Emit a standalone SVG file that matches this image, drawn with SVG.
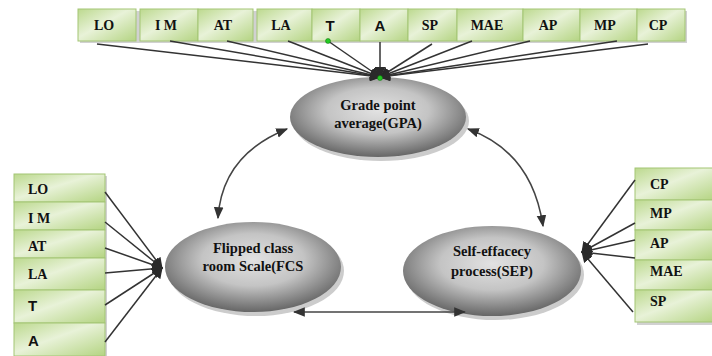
<svg xmlns="http://www.w3.org/2000/svg" width="712" height="356" viewBox="0 0 712 356">
<defs>
<linearGradient id="boxg" x1="0" y1="0" x2="1" y2="1">
<stop offset="0" stop-color="#bcd98e"/>
<stop offset="0.45" stop-color="#e8f2d8"/>
<stop offset="1" stop-color="#b4d482"/>
</linearGradient>
<radialGradient id="ellg" cx="0.5" cy="0.42" r="0.58">
<stop offset="0" stop-color="#e2e2e2"/>
<stop offset="0.5" stop-color="#c4c4c4"/>
<stop offset="1" stop-color="#666"/>
</radialGradient>
<marker id="ah" viewBox="0 0 10 10" refX="9" refY="5" markerWidth="11" markerHeight="11" orient="auto-start-reverse" markerUnits="userSpaceOnUse">
<path d="M0,0 L10,5 L0,10 z" fill="#2a2a2a"/>
</marker>
<marker id="ah2" viewBox="0 0 10 10" refX="9" refY="5" markerWidth="12" markerHeight="12" orient="auto-start-reverse" markerUnits="userSpaceOnUse">
<path d="M0,1 L10,5 L0,9 z" fill="#333"/>
</marker>
</defs>
<style>
.box{fill:url(#boxg);stroke:#a3c575;stroke-width:1}
.bs{fill:#9a9a9a;opacity:0.45}
.lbl{font-family:"Liberation Serif",serif;font-weight:bold;font-size:14px;fill:#111}
.lbls{font-family:"Liberation Sans",sans-serif;font-weight:bold;font-size:15px;fill:#111}
.ell{fill:url(#ellg)}
.eshadow{fill:#9a9a9a;opacity:0.5}
.et{font-family:"Liberation Serif",serif;font-weight:bold;font-size:14.5px;fill:#111;text-anchor:middle}
.c{stroke:#333;stroke-width:1.5;fill:none;marker-end:url(#ah)}
.d{stroke:#444;stroke-width:1.5;fill:none;marker-start:url(#ah2);marker-end:url(#ah2)}
.dot{fill:#22cc22;stroke:#116611;stroke-width:0.5}
</style>

<g id="shadows">
<rect class="bs" x="80" y="11" width="607" height="32"/>
<rect class="bs" x="16" y="176" width="91" height="182"/>
<rect class="bs" x="637" y="170" width="80" height="155"/>
</g>

<g id="top-items">
<g id="t-LO"><rect class="box" x="78" y="9" width="58" height="32"/><text class="lbl" x="104" y="30" text-anchor="middle">LO</text></g>
<g id="t-IM"><rect class="box" x="140" y="9" width="58" height="32"/><text class="lbl" x="166" y="30" text-anchor="middle">I M</text></g>
<g id="t-AT"><rect class="box" x="198" y="9" width="55" height="32"/><text class="lbl" x="223" y="30" text-anchor="middle">AT</text></g>
<g id="t-LA"><rect class="box" x="257" y="9" width="55" height="32"/><text class="lbl" x="281" y="30" text-anchor="middle">LA</text></g>
<g id="t-T"><rect class="box" x="312" y="9" width="48" height="32"/><text class="lbls" x="330" y="31" text-anchor="middle">T</text></g>
<g id="t-A"><rect class="box" x="360" y="9" width="48" height="32"/><text class="lbls" x="380" y="31" text-anchor="middle">A</text></g>
<g id="t-SP"><rect class="box" x="408" y="9" width="49" height="32"/><text class="lbl" x="430" y="30" text-anchor="middle">SP</text></g>
<g id="t-MAE"><rect class="box" x="457" y="9" width="66" height="32"/><text class="lbl" x="487" y="30" text-anchor="middle">MAE</text></g>
<g id="t-AP"><rect class="box" x="523" y="9" width="57" height="32"/><text class="lbl" x="548" y="30" text-anchor="middle">AP</text></g>
<g id="t-MP"><rect class="box" x="580" y="9" width="57" height="32"/><text class="lbl" x="605" y="30" text-anchor="middle">MP</text></g>
<g id="t-CP"><rect class="box" x="637" y="9" width="48" height="32"/><text class="lbl" x="658" y="30" text-anchor="middle">CP</text></g>
</g>

<g id="left-items">
<g id="l-LO"><rect class="box" x="14" y="174" width="91" height="28"/><text class="lbl" x="28" y="194">LO</text></g>
<g id="l-IM"><rect class="box" x="14" y="202" width="91" height="28"/><text class="lbl" x="28" y="223">I M</text></g>
<g id="l-AT"><rect class="box" x="14" y="230" width="91" height="28"/><text class="lbl" x="28" y="251">AT</text></g>
<g id="l-LA"><rect class="box" x="14" y="258" width="91" height="32"/><text class="lbl" x="28" y="279">LA</text></g>
<g id="l-T"><rect class="box" x="14" y="290" width="91" height="33"/><text class="lbls" x="28" y="311">T</text></g>
<g id="l-A"><rect class="box" x="14" y="323" width="91" height="33"/><text class="lbls" x="28" y="346">A</text></g>
</g>

<g id="right-items">
<g id="r-CP"><rect class="box" x="635" y="168" width="80" height="32"/><text class="lbl" x="650" y="189">CP</text></g>
<g id="r-MP"><rect class="box" x="635" y="200" width="80" height="30"/><text class="lbl" x="650" y="218">MP</text></g>
<g id="r-AP"><rect class="box" x="635" y="230" width="80" height="30"/><text class="lbl" x="650" y="248">AP</text></g>
<g id="r-MAE"><rect class="box" x="635" y="260" width="80" height="30"/><text class="lbl" x="650" y="276">MAE</text></g>
<g id="r-SP"><rect class="box" x="635" y="290" width="80" height="32"/><text class="lbl" x="650" y="306">SP</text></g>
</g>

<g id="GPA">
<ellipse class="eshadow" cx="381" cy="121" rx="88" ry="40"/>
<ellipse class="ell" cx="378" cy="117" rx="88" ry="40"/>
<text class="et" x="378" y="110">Grade point</text>
<text class="et" x="378" y="128">average(GPA)</text>
</g>
<g id="FCS">
<ellipse class="eshadow" cx="256" cy="271" rx="88" ry="45"/>
<ellipse class="ell" cx="253" cy="267" rx="88" ry="45"/>
<text class="et" x="253" y="253">Flipped class</text>
<text class="et" x="253" y="271">room Scale(FCS</text>
</g>
<g id="SEP">
<ellipse class="eshadow" cx="495" cy="275" rx="89" ry="45"/>
<ellipse class="ell" cx="492" cy="271" rx="89" ry="45"/>
<text class="et" x="492" y="256">Self-effacecy</text>
<text class="et" x="492" y="276">process(SEP)</text>
</g>

<g id="connectors">
<line class="c" x1="97" y1="44" x2="380" y2="77"/>
<line class="c" x1="170" y1="41" x2="380" y2="77"/>
<line class="c" x1="227" y1="41" x2="380" y2="77"/>
<line class="c" x1="288" y1="41" x2="380" y2="77"/>
<line class="c" x1="328" y1="41" x2="380" y2="77"/>
<line class="c" x1="380" y1="42" x2="380" y2="77"/>
<line class="c" x1="432" y1="44" x2="380" y2="77"/>
<line class="c" x1="472" y1="41" x2="380" y2="77"/>
<line class="c" x1="530" y1="41" x2="380" y2="77"/>
<line class="c" x1="617" y1="41" x2="380" y2="77"/>
<line class="c" x1="648" y1="44" x2="380" y2="77"/>

<line class="c" x1="105" y1="192" x2="162" y2="268"/>
<line class="c" x1="105" y1="222" x2="162" y2="268"/>
<line class="c" x1="105" y1="248" x2="162" y2="268"/>
<line class="c" x1="105" y1="273" x2="162" y2="268"/>
<line class="c" x1="105" y1="305" x2="162" y2="268"/>
<line class="c" x1="105" y1="342" x2="162" y2="268"/>

<line class="c" x1="635" y1="180" x2="582" y2="252"/>
<line class="c" x1="635" y1="223" x2="582" y2="252"/>
<line class="c" x1="635" y1="240" x2="582" y2="252"/>
<line class="c" x1="635" y1="258" x2="582" y2="252"/>
<line class="c" x1="633" y1="312" x2="582" y2="252"/>

<path class="d" d="M218,218 Q222,155 287,129"/>
<path class="d" d="M468,129 Q532,152 543,226"/>
<line class="d" x1="294" y1="312" x2="465" y2="312"/>
<circle class="dot" cx="328" cy="41" r="2.5"/>
<circle class="dot" cx="380" cy="78" r="2.5"/>
</g>
</svg>
